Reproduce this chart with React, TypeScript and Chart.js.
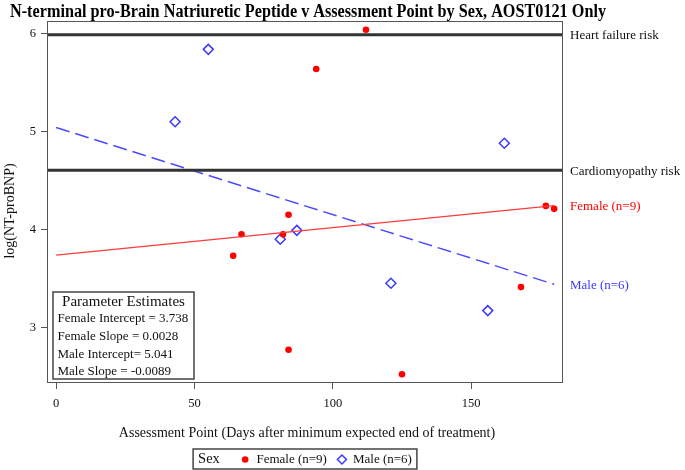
import { useEffect, useRef } from 'react';
import { Chart, registerables } from 'chart.js';

Chart.register(...registerables);

const TITLE = 'N-terminal pro-Brain Natriuretic Peptide v Assessment Point by Sex, AOST0121 Only';
const X_TITLE = 'Assessment Point (Days after minimum expected end of treatment)';
const Y_TITLE = 'log(NT-proBNP)';

const femaleDays = [64, 67, 82, 84, 84, 94, 112, 125, 168, 177, 180];
const femaleValues = [3.73, 3.95, 3.95, 4.15, 2.77, 5.64, 6.04, 2.52, 3.41, 4.24, 4.21];
const maleDays = [43, 55, 81, 87, 121, 156, 162];
const maleValues = [5.1, 5.84, 3.9, 3.99, 3.45, 3.17, 4.88];

const femaleIntercept = 3.738;
const femaleSlope = 0.0028;
const maleIntercept = 5.041;
const maleSlope = -0.0089;

const heartFailureRisk = 5.99;
const cardiomyopathyRisk = 4.605;

const xTicks = [0, 50, 100, 150];
const yTicks = [3, 4, 5, 6];

const femaleLabel = 'Female (n=9)';
const maleLabel = 'Male (n=6)';
const paramLines = [
  'Female Intercept = 3.738',
  'Female Slope = 0.0028',
  'Male Intercept= 5.041',
  'Male Slope = -0.0089',
];

const RED = '#ff0000';
const RED_LINE = '#ff3a3a';
const BLUE = '#3a3aff';
const BLUE_LINE = '#4a4aff';
const SERIF = '"Liberation Serif", "Times New Roman", serif';

const X_MIN = -3.3;
const X_MAX = 183.2;
const Y_MIN = 2.43;
const Y_MAX = 6.13;

export default function App() {
  const ref = useRef<HTMLCanvasElement | null>(null);

  useEffect(() => {
    document.body.style.margin = '0';
    const canvas = ref.current;
    if (!canvas) return;

    const lineEnd = Math.max(...femaleDays, ...maleDays);
    const femaleFit = [0, lineEnd].map((d) => ({ x: d, y: femaleIntercept + femaleSlope * d }));
    const maleFit = [0, lineEnd].map((d) => ({ x: d, y: maleIntercept + maleSlope * d }));

    const overlay = {
      id: 'overlay',
      afterDraw(chart: any) {
        const { ctx, chartArea: ca, scales } = chart;
        const ys = scales.y;
        ctx.save();
        // frame
        ctx.strokeStyle = '#555';
        ctx.lineWidth = 1;
        ctx.strokeRect(ca.left + 0.5, ca.top + 0.5, ca.right - ca.left - 1, ca.bottom - ca.top - 1);

        // title
        ctx.fillStyle = '#000';
        ctx.textBaseline = 'middle';
        ctx.textAlign = 'left';
        ctx.font = `bold 18px ${SERIF}`;
        const tw = ctx.measureText(TITLE).width;
        ctx.save();
        ctx.translate(10, 12);
        ctx.scale(596 / tw, 1);
        ctx.fillText(TITLE, 0, 0);
        ctx.restore();

        // axis titles
        ctx.font = `14px ${SERIF}`;
        ctx.textAlign = 'center';
        ctx.fillStyle = '#111';
        ctx.fillText(X_TITLE, (ca.left + ca.right) / 2 + 2, 433);
        ctx.save();
        ctx.translate(10, 211);
        ctx.rotate(-Math.PI / 2);
        ctx.fillText(Y_TITLE, 0, 0);
        ctx.restore();

        // right labels
        ctx.textAlign = 'left';
        ctx.font = `13px ${SERIF}`;
        const lx = ca.right + 7;
        const lineEndX = Math.max(...femaleDays, ...maleDays);
        ctx.fillStyle = '#111';
        ctx.fillText('Heart failure risk', lx, ys.getPixelForValue(heartFailureRisk) + 1);
        ctx.fillText('Cardiomyopathy risk', lx, ys.getPixelForValue(cardiomyopathyRisk) + 1);
        ctx.fillStyle = RED;
        ctx.fillText(femaleLabel, lx, ys.getPixelForValue(femaleIntercept + femaleSlope * lineEndX) + 1);
        ctx.fillStyle = BLUE;
        ctx.fillText(maleLabel, lx, ys.getPixelForValue(maleIntercept + maleSlope * lineEndX) + 1);

        // parameter estimates box
        const bx = ca.left + 6;
        const bw = 141;
        const bh = 87;
        const by = ca.bottom - 4 - bh;
        ctx.fillStyle = '#fff';
        ctx.fillRect(bx, by, bw, bh);
        ctx.strokeStyle = '#444';
        ctx.lineWidth = 1.5;
        ctx.strokeRect(bx, by, bw, bh);
        ctx.fillStyle = '#111';
        ctx.font = `15px ${SERIF}`;
        ctx.textAlign = 'center';
        ctx.fillText('Parameter Estimates', bx + bw / 2, by + 10.5);
        ctx.font = `13px ${SERIF}`;
        ctx.textAlign = 'left';
        paramLines.forEach((t, i) => {
          ctx.fillText(t, bx + 4.5, by + 27 + i * 17.6);
        });

        // bottom legend
        const sexFont = `14.5px ${SERIF}`;
        const itemFont = `13px ${SERIF}`;
        ctx.font = sexFont;
        const sexW = ctx.measureText('Sex').width;
        ctx.font = itemFont;
        const fW = ctx.measureText(femaleLabel).width;
        const mW = ctx.measureText(maleLabel).width;
        const total = 5 + sexW + 22 + 6.6 + 8 + fW + 10 + 10 + 6 + mW + 5;
        const left = (ca.left + ca.right) / 2 - total / 2;
        const top = 449;
        const h = 20;
        const cy = top + h / 2 + 0.5;
        ctx.strokeStyle = '#444';
        ctx.lineWidth = 1.5;
        ctx.strokeRect(left, top, total, h);
        let cx = left + 5;
        ctx.fillStyle = '#111';
        ctx.font = sexFont;
        ctx.fillText('Sex', cx, cy);
        cx += sexW + 22;
        ctx.fillStyle = RED;
        ctx.beginPath();
        ctx.arc(cx + 3.3, cy, 3.3, 0, Math.PI * 2);
        ctx.fill();
        cx += 6.6 + 8;
        ctx.fillStyle = '#111';
        ctx.font = itemFont;
        ctx.fillText(femaleLabel, cx, cy);
        cx += fW + 10;
        ctx.strokeStyle = BLUE;
        ctx.lineWidth = 1.5;
        ctx.beginPath();
        ctx.moveTo(cx + 5, cy - 4.5);
        ctx.lineTo(cx + 9.5, cy);
        ctx.lineTo(cx + 5, cy + 4.5);
        ctx.lineTo(cx + 0.5, cy);
        ctx.closePath();
        ctx.stroke();
        cx += 10 + 6;
        ctx.fillStyle = '#111';
        ctx.fillText(maleLabel, cx, cy);

        ctx.restore();
      },
    };

    const tickFont = { family: SERIF, size: 12.5 };

    const chart = new Chart(canvas, {
      type: 'scatter',
      data: {
        datasets: [
          {
            data: [
              { x: X_MIN, y: heartFailureRisk },
              { x: X_MAX, y: heartFailureRisk },
            ],
            showLine: true,
            borderColor: '#333',
            borderWidth: 3,
            pointRadius: 0,
          },
          {
            data: [
              { x: X_MIN, y: cardiomyopathyRisk },
              { x: X_MAX, y: cardiomyopathyRisk },
            ],
            showLine: true,
            borderColor: '#333',
            borderWidth: 3,
            pointRadius: 0,
          },
          {
            data: femaleFit,
            showLine: true,
            borderColor: RED_LINE,
            borderWidth: 1.3,
            pointRadius: 0,
          },
          {
            data: maleFit,
            showLine: true,
            borderColor: BLUE_LINE,
            borderWidth: 1.5,
            borderDash: [14, 6],
            pointRadius: 0,
          },
          {
            data: femaleDays.map((d, i) => ({ x: d, y: femaleValues[i] })),
            pointStyle: 'circle',
            pointRadius: 3.3,
            backgroundColor: RED,
            borderColor: RED,
            borderWidth: 0,
          },
          {
            data: maleDays.map((d, i) => ({ x: d, y: maleValues[i] })),
            pointStyle: 'rectRot',
            pointRadius: 5,
            backgroundColor: 'rgba(0,0,0,0)',
            borderColor: BLUE,
            borderWidth: 1.5,
          },
        ],
      },
      options: {
        animation: false,
        responsive: false,
        layout: { padding: { left: 0, top: 21, right: 122, bottom: 0 } },
        plugins: { legend: { display: false }, tooltip: { enabled: false } },
        scales: {
          x: {
            type: 'linear',
            min: X_MIN,
            max: X_MAX,
            afterFit: (s: any) => {
              s.height = 87;
            },
            afterBuildTicks: (s: any) => {
              s.ticks = xTicks.map((v) => ({ value: v }));
            },
            ticks: { font: tickFont, color: '#111', padding: 7, maxRotation: 0 },
            grid: { drawOnChartArea: false, drawTicks: true, tickLength: 6, color: '#555' },
            border: { display: false },
          },
          y: {
            type: 'linear',
            min: Y_MIN,
            max: Y_MAX,
            afterFit: (s: any) => {
              s.width = 47;
            },
            afterBuildTicks: (s: any) => {
              s.ticks = yTicks.map((v) => ({ value: v }));
            },
            ticks: { font: tickFont, color: '#111', padding: 5 },
            grid: { drawOnChartArea: false, drawTicks: true, tickLength: 6, color: '#555' },
            border: { display: false },
          },
        },
      },
      plugins: [overlay],
    } as any);

    return () => chart.destroy();
  }, []);

  return (
    <div style={{ position: 'absolute', left: 0, top: 0, width: 685, height: 470 }}>
      <canvas ref={ref} width={685} height={470} style={{ width: 685, height: 470 }} />
    </div>
  );
}
